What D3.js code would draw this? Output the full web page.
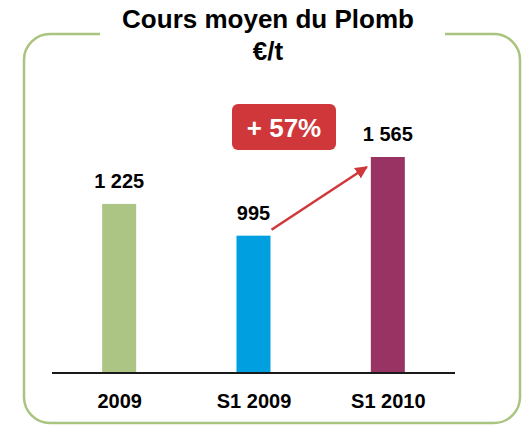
<!DOCTYPE html>
<html>
<head>
<meta charset="utf-8">
<script src="https://cdn.jsdelivr.net/npm/d3@7"></script>
<style>
  body { margin: 0; background: #fff; }
  text { font-family: "Liberation Sans", Arial, sans-serif; font-weight: bold; }
</style>
</head>
<body>
<div id="chart"></div>
<script>
const categories = ['2009', 'S1 2009', 'S1 2010'];
const values = [1225, 995, 1565];
const valueLabels = ['1 225', '995', '1 565'];
const colors = ['#adc584', '#009fe0', '#983363'];
const titleLines = ['Cours moyen du Plomb', '€/t'];
const changeLabel = '+ 57%';

const width = 525, height = 425;
const red = '#d0373a';

const svg = d3.select('#chart').append('svg')
  .attr('width', width)
  .attr('height', height);

// Rounded green frame, with a gap where the title sits
const frame = { x: 24, y: 34, w: 496, h: 389, r: 26 };
svg.append('rect')
  .attr('x', frame.x).attr('y', frame.y)
  .attr('width', frame.w).attr('height', frame.h)
  .attr('rx', frame.r)
  .attr('fill', 'none')
  .attr('stroke', '#a9c47f')
  .attr('stroke-width', 2.5);
svg.append('rect')
  .attr('x', 100).attr('y', frame.y - 4)
  .attr('width', 345).attr('height', 8)
  .attr('fill', '#fff');

// Title
svg.selectAll('text.title')
  .data(titleLines)
  .join('text')
  .attr('class', 'title')
  .attr('x', 268)
  .attr('y', (d, i) => 28 + i * 32)
  .attr('text-anchor', 'middle')
  .attr('font-size', 26)
  .attr('fill', '#000')
  .text(d => d);

// Scales
const x = d3.scalePoint()
  .domain(categories)
  .range([52, 455])
  .padding(0.5);

const y = d3.scaleLinear()
  .domain([0, 1565])
  .range([373, 157]);

const barWidth = 34;

// Bars
svg.selectAll('rect.bar')
  .data(values)
  .join('rect')
  .attr('class', 'bar')
  .attr('x', (d, i) => x(categories[i]) - barWidth / 2)
  .attr('y', d => y(d))
  .attr('width', barWidth)
  .attr('height', d => y(0) - y(d))
  .attr('fill', (d, i) => colors[i]);

// Baseline axis
const axis = svg.append('g')
  .attr('transform', `translate(0, ${y(0)})`)
  .call(d3.axisBottom(x).tickSize(0).tickPadding(21));
axis.select('.domain')
  .attr('d', 'M52,0H455')
  .attr('stroke', '#1a1a1a')
  .attr('stroke-width', 2);
axis.selectAll('text')
  .attr('font-size', 20)
  .attr('font-family', '"Liberation Sans", Arial, sans-serif')
  .attr('font-weight', 'bold')
  .attr('fill', '#000');

// Value labels
svg.selectAll('text.value')
  .data(values)
  .join('text')
  .attr('class', 'value')
  .attr('x', (d, i) => x(categories[i]))
  .attr('y', d => y(d) - 16)
  .attr('text-anchor', 'middle')
  .attr('font-size', 20)
  .attr('fill', '#000')
  .text((d, i) => valueLabels[i]);

// Growth arrow from S1 2009 to S1 2010
svg.append('defs').append('marker')
  .attr('id', 'arrowhead')
  .attr('viewBox', '0 0 10 10')
  .attr('refX', 9).attr('refY', 5)
  .attr('markerWidth', 5).attr('markerHeight', 5)
  .attr('orient', 'auto')
  .append('path')
  .attr('d', 'M0,0L10,5L0,10z')
  .attr('fill', red);

svg.append('line')
  .attr('x1', x('S1 2009') + barWidth / 2 + 1)
  .attr('y1', y(values[1]) - 6)
  .attr('x2', x('S1 2010') - barWidth / 2 - 4)
  .attr('y2', y(values[2]) + 10)
  .attr('stroke', red)
  .attr('stroke-width', 2.5)
  .attr('marker-end', 'url(#arrowhead)');

// Change badge
svg.append('rect')
  .attr('x', 232).attr('y', 104)
  .attr('width', 104).attr('height', 46)
  .attr('rx', 6)
  .attr('fill', red);
svg.append('text')
  .attr('x', 284).attr('y', 137)
  .attr('text-anchor', 'middle')
  .attr('font-size', 26)
  .attr('fill', '#fff')
  .text(changeLabel);
</script>
</body>
</html>
